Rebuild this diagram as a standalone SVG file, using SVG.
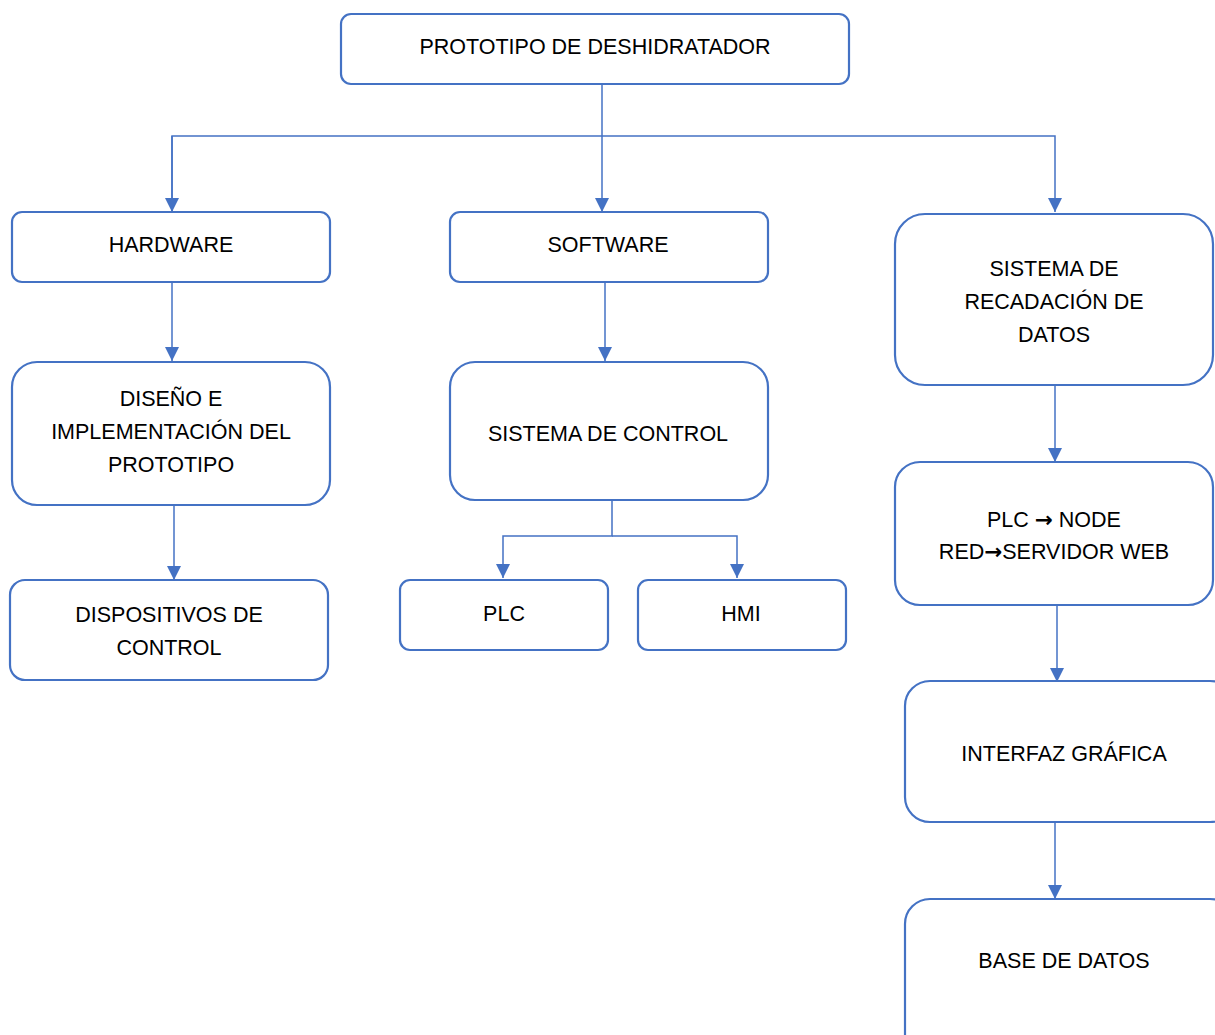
<svg xmlns="http://www.w3.org/2000/svg" width="1215" height="1035" viewBox="0 0 1215 1035">
<style>
.box{fill:#fff;stroke:#4472C4;stroke-width:2.2}
.t{font-family:"Liberation Sans",Arial,sans-serif;font-size:21.5px;fill:#000;text-anchor:middle}
.ar{font-family:"DejaVu Sans",sans-serif;font-weight:bold}
.c{fill:none;stroke:#4472C4;stroke-width:1.5}
</style>
<defs>
<marker id="a" markerUnits="userSpaceOnUse" markerWidth="16" markerHeight="16" viewBox="0 0 16 16" refX="15" refY="8" orient="auto">
<path d="M1,1 L15,8 L1,15 Z" fill="#4472C4"/>
</marker>
</defs>
<rect width="1215" height="1035" fill="#fff"/>
<g id="connectors">
<path class="c" d="M602,84 V212" marker-end="url(#a)"/>
<path class="c" d="M172,212 V136 H1055 V212" marker-end="url(#a)"/>
<path class="c" d="M172,136 V212" marker-end="url(#a)"/>
<path class="c" d="M172,282 V361" marker-end="url(#a)"/>
<path class="c" d="M174,505 V580" marker-end="url(#a)"/>
<path class="c" d="M605,282 V361" marker-end="url(#a)"/>
<path class="c" d="M612,500 V536 H503 V578" marker-end="url(#a)"/>
<path class="c" d="M612,536 H737 V578" marker-end="url(#a)"/>
<path class="c" d="M1055,385 V462" marker-end="url(#a)"/>
<path class="c" d="M1057,605 V682" marker-end="url(#a)"/>
<path class="c" d="M1055,822 V899" marker-end="url(#a)"/>
</g>
<g id="n-top"><rect class="box" x="341" y="14" width="508" height="70" rx="10"/><text class="t" x="595" y="54">PROTOTIPO DE DESHIDRATADOR</text></g>
<g id="n-hardware"><rect class="box" x="12" y="212" width="318" height="70" rx="10"/><text class="t" x="171" y="252">HARDWARE</text></g>
<g id="n-software"><rect class="box" x="450" y="212" width="318" height="70" rx="10"/><text class="t" x="608" y="252">SOFTWARE</text></g>
<g id="n-recadacion"><rect class="box" x="895" y="214" width="318" height="171" rx="30"/><text class="t" x="1054" y="276">SISTEMA DE</text><text class="t" x="1054" y="309">RECADACIÓN DE</text><text class="t" x="1054" y="342">DATOS</text></g>
<g id="n-diseno"><rect class="box" x="12" y="362" width="318" height="143" rx="25"/><text class="t" x="171" y="406">DISEÑO E</text><text class="t" x="171" y="439">IMPLEMENTACIÓN DEL</text><text class="t" x="171" y="472">PROTOTIPO</text></g>
<g id="n-control"><rect class="box" x="450" y="362" width="318" height="138" rx="25"/><text class="t" x="608" y="441">SISTEMA DE CONTROL</text></g>
<g id="n-dispositivos"><rect class="box" x="10" y="580" width="318" height="100" rx="15"/><text class="t" x="169" y="622">DISPOSITIVOS DE</text><text class="t" x="169" y="655">CONTROL</text></g>
<g id="n-plc"><rect class="box" x="400" y="580" width="208" height="70" rx="10"/><text class="t" x="504" y="621">PLC</text></g>
<g id="n-hmi"><rect class="box" x="638" y="580" width="208" height="70" rx="10"/><text class="t" x="741" y="621">HMI</text></g>
<g id="n-node"><rect class="box" x="895" y="462" width="318" height="143" rx="25"/><text class="t" x="1054" y="527">PLC <tspan class="ar">→</tspan>  NODE</text><text class="t" x="1054" y="559">RED<tspan class="ar">→</tspan>SERVIDOR WEB</text></g>
<g id="n-interfaz"><rect class="box" x="905" y="681" width="330" height="141" rx="25"/><text class="t" x="1064" y="761">INTERFAZ GRÁFICA</text></g>
<g id="n-base"><rect class="box" x="905" y="899" width="330" height="160" rx="25"/><text class="t" x="1064" y="968">BASE DE DATOS</text></g>
</svg>
